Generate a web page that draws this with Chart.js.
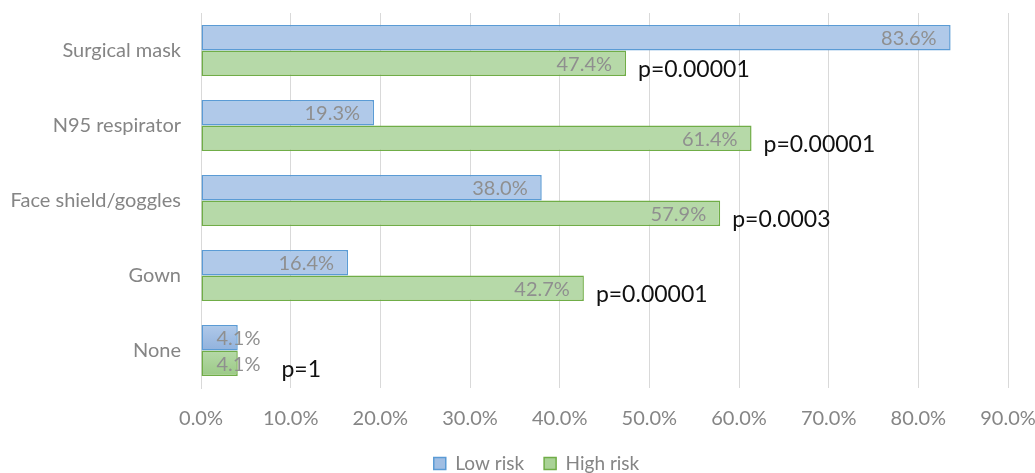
<!DOCTYPE html>
<html><head><meta charset="utf-8">
<script src="https://cdn.jsdelivr.net/npm/chart.js@4"></script>
<style>html,body{margin:0;padding:0;background:#fff}#wrap{width:1035px;height:473px}</style>
</head><body><div id="wrap"><canvas id="c" width="1035" height="473"></canvas></div>
<script>
const categories = ["Surgical mask", "N95 respirator", "Face shield/goggles", "Gown", "None"];
const lowRisk = [83.6, 19.3, 38.0, 16.4, 4.1];
const highRisk = [47.4, 61.4, 57.9, 42.7, 4.1];
const pValues = ["p=0.00001", "p=0.00001", "p=0.0003", "p=0.00001", "p=1"];
const xTicks = [0, 10, 20, 30, 40, 50, 60, 70, 80, 90];

const FONT = "Lato, 'Open Sans', sans-serif";
const grads = [["#b0c9e9", "#91b2dd"], ["#b6d9a8", "#9bca86"]];

const gradientPlugin = {
  id: 'grad',
  afterLayout(chart) {
    chart.legend.left += 27;
    chart.legend.right += 27;
  },
  beforeDatasetsDraw(chart) {
    const ctx = chart.ctx;
    chart.data.datasets.forEach((ds, di) => {
      chart.getDatasetMeta(di).data.forEach(el => {
        const top = el.y - el.height / 2, bot = el.y + el.height / 2;
        const g = ctx.createLinearGradient(0, top, 0, bot);
        g.addColorStop(0, grads[di][0]);
        g.addColorStop(1, grads[di][1]);
        el.options.backgroundColor = g;
      });
    });
  }
};

const labelPlugin = {
  id: 'labels',
  afterDatasetsDraw(chart) {
    const ctx = chart.ctx;
    ctx.save();
    ctx.font = "20px " + FONT;
    ctx.textBaseline = 'middle';
    ctx.textAlign = 'left';
    const rights = [];
    chart.data.datasets.forEach((ds, di) => {
      chart.getDatasetMeta(di).data.forEach((el, i) => {
        const txt = ds.data[i].toFixed(1) + '%';
        const w = ctx.measureText(txt).width;
        const right = Math.max(el.x - 14, el.base + 15 + w);
        ctx.fillStyle = '#8f8f8f';
        ctx.fillText(txt, right - w, el.y + 1);
        if (di === 1) rights[i] = { bar: el.x, label: right, y: el.y };
      });
    });
    ctx.font = "23px " + FONT;
    ctx.fillStyle = '#111';
    rights.forEach((r, i) => {
      const x = Math.max(r.bar + 12, r.label + 21);
      ctx.fillText(pValues[i], x, r.y + 6);
    });
    ctx.restore();
  }
};

new Chart(document.getElementById('c'), {
  type: 'bar',
  data: {
    labels: categories,
    datasets: [
      { label: 'Low risk', data: lowRisk, backgroundColor: '#a0bee3', borderColor: '#5b9bd5', borderWidth: 1.5, borderSkipped: false,
        categoryPercentage: 0.68, barPercentage: 1 },
      { label: 'High risk', data: highRisk, backgroundColor: '#a9d296', borderColor: '#70ad47', borderWidth: 1.5, borderSkipped: false,
        categoryPercentage: 0.68, barPercentage: 1 }
    ]
  },
  options: {
    indexAxis: 'y',
    responsive: false,
    animation: false,
    layout: { padding: { top: 13, right: 27, left: 11, bottom: -10 } },
    scales: {
      x: {
        min: 0, max: 90,
        afterBuildTicks(axis) { axis.ticks = xTicks.map(v => ({ value: v })); },
        afterFit(s) { s.paddingLeft = 0; s.paddingRight = 0; s.height = 46; },
        ticks: { color: '#858585', font: { size: 20, family: FONT }, padding: 19,
          callback: v => v.toFixed(1) + '%' },
        grid: { color: '#d9d9d9', drawTicks: false, lineWidth: 1 },
        border: { display: false }
      },
      y: {
        afterFit(s) { s.paddingTop = 0; s.paddingBottom = 0; s.width = 190; },
        ticks: { color: '#858585', font: { size: 20, family: FONT }, padding: 20 },
        grid: { display: false, drawTicks: false },
        border: { display: true, color: '#d9d9d9' }
      }
    },
    plugins: {
      legend: {
        position: 'bottom',
        labels: { color: '#858585', font: { size: 19, family: FONT }, boxWidth: 12, boxHeight: 12, padding: 20 }
      },
      tooltip: { enabled: false }
    }
  },
  plugins: [gradientPlugin, labelPlugin]
});
</script></body></html>
